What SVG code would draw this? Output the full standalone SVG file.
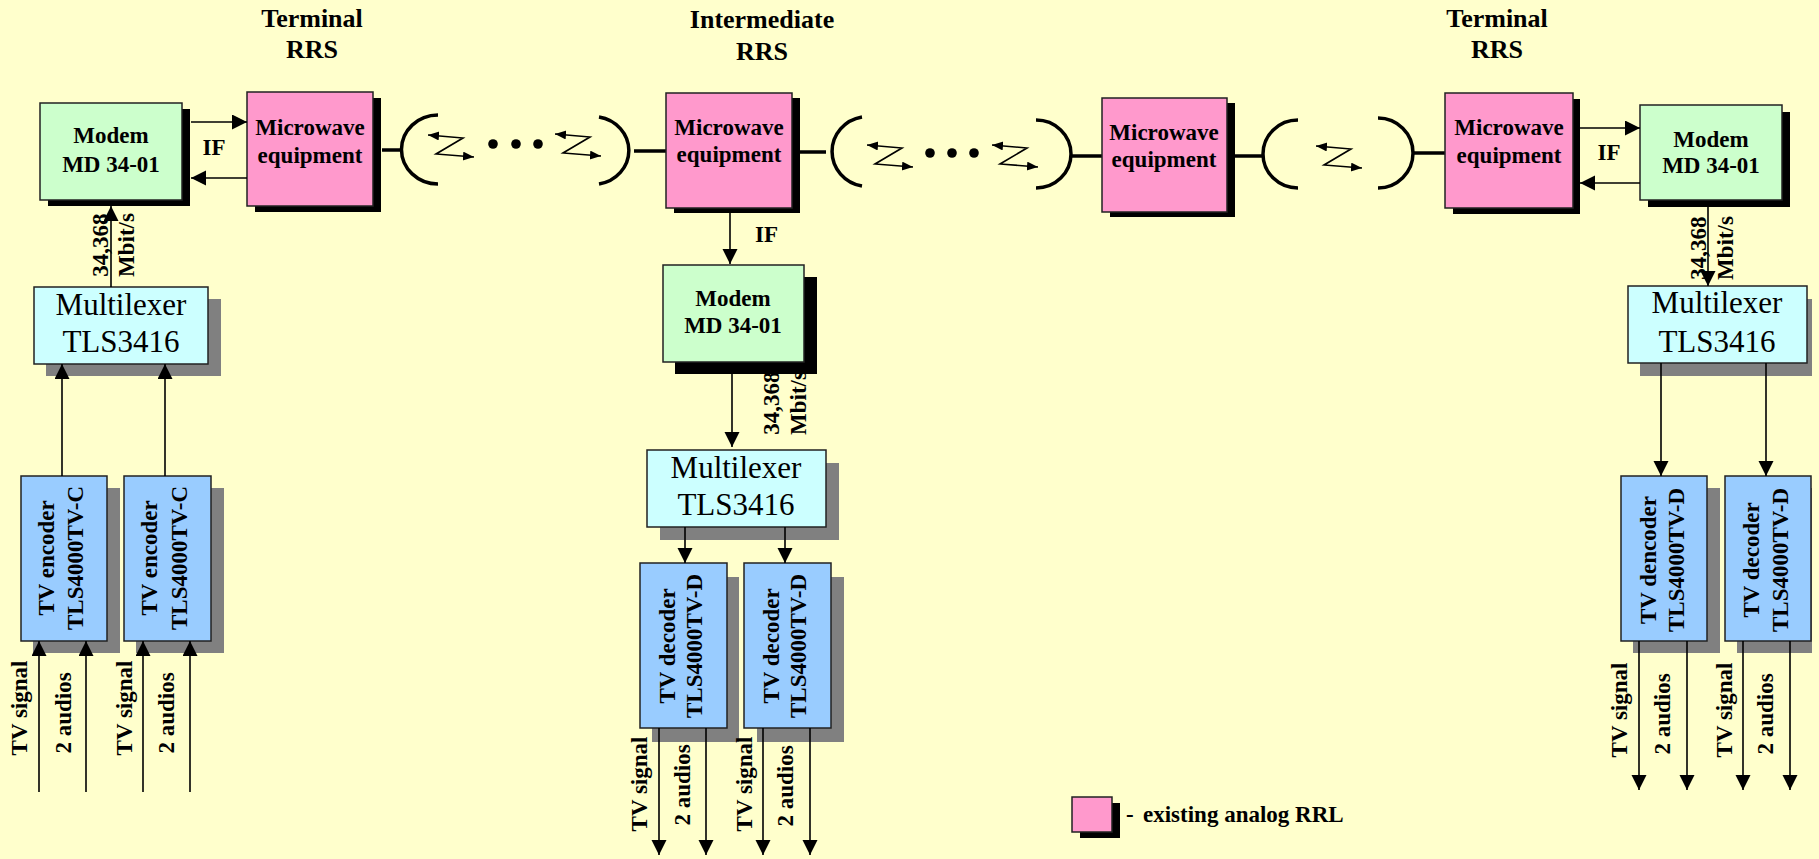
<svg xmlns="http://www.w3.org/2000/svg" width="1819" height="859" viewBox="0 0 1819 859">
<defs>
<style>
.bg{fill:#FFFFCC}
.mw{fill:#FF99CC;stroke:#222;stroke-width:1.5}
.md{fill:#CCFFCC;stroke:#222;stroke-width:1.5}
.mx{fill:#CCFFFF;stroke:#222;stroke-width:1.5}
.cd{fill:#99CCFF;stroke:#222;stroke-width:1.5}
.sb{fill:#000}
.sg{fill:#808080}
.t{font-family:"Liberation Serif","Times New Roman",serif;font-weight:bold;font-size:23px;fill:#000;text-anchor:middle}
.h{font-family:"Liberation Serif","Times New Roman",serif;font-weight:bold;font-size:26px;fill:#000;text-anchor:middle}
.r{font-family:"Liberation Serif","Times New Roman",serif;font-size:31px;fill:#000;text-anchor:middle}
.ln{stroke:#000;stroke-width:1.6;fill:none}
.thick{stroke:#000;stroke-width:3.5;fill:none}
.z{stroke:#000;stroke-width:1.6;fill:none}
</style>
<marker id="ah" markerUnits="userSpaceOnUse" markerWidth="16" markerHeight="16" refX="15" refY="7.5" orient="auto-start-reverse" viewBox="0 0 16 16">
<path d="M0,0 L15,7.5 L0,15 z" fill="#000"/>
</marker>
<marker id="zh" markerUnits="userSpaceOnUse" markerWidth="12" markerHeight="12" refX="11" refY="4.5" orient="auto-start-reverse" viewBox="0 0 12 12">
<path d="M0,0 L11,4.5 L0,9 z" fill="#000"/>
</marker>
<polyline id="zz" class="z" points="0,0 35,3 8,19 46,22" marker-start="url(#zh)" marker-end="url(#zh)"/>
</defs>
<rect class="bg" x="0" y="0" width="1819" height="859"/>

<g id="titles">
<text class="h" x="312" y="27">Terminal</text>
<text class="h" x="312" y="58">RRS</text>
<text class="h" x="762" y="28">Intermediate</text>
<text class="h" x="762" y="60">RRS</text>
<text class="h" x="1497" y="27">Terminal</text>
<text class="h" x="1497" y="58">RRS</text>
</g>

<g id="rate-label-mid">
<text class="t" transform="translate(779,403) rotate(-90)">34,368</text>
<text class="t" transform="translate(806,403) rotate(-90)">Mbit/s</text>
</g>

<g id="radio-links">
<line class="thick" x1="382" y1="150" x2="403" y2="150"/>
<path class="thick" d="M438,115 A36,34 0 0 0 438,184"/>
<use href="#zz" x="428" y="135"/>
<circle cx="493" cy="144" r="4.8"/>
<circle cx="516" cy="144" r="4.8"/>
<circle cx="538" cy="144" r="4.8"/>
<use href="#zz" x="555" y="134"/>
<path class="thick" d="M599,117 A36,34 0 0 1 599,184"/>
<line class="thick" x1="634" y1="151" x2="666" y2="151"/>

<line class="thick" x1="800" y1="152" x2="826" y2="152"/>
<path class="thick" d="M862,117 A36,35 0 0 0 862,186"/>
<use href="#zz" x="867" y="145"/>
<circle cx="930" cy="153" r="4.8"/>
<circle cx="952" cy="153" r="4.8"/>
<circle cx="974" cy="153" r="4.8"/>
<use href="#zz" x="992" y="145"/>
<path class="thick" d="M1036,120 A35,34 0 0 1 1036,188"/>
<line class="thick" x1="1070" y1="156" x2="1102" y2="156"/>

<line class="thick" x1="1235" y1="156" x2="1264" y2="156"/>
<path class="thick" d="M1298,120 A35,34 0 0 0 1298,188"/>
<use href="#zz" x="1316" y="146"/>
<path class="thick" d="M1378,118 A35,35 0 0 1 1378,188"/>
<line class="thick" x1="1413" y1="153" x2="1445" y2="153"/>
</g>

<g id="modem-left">
<rect class="sb" x="48" y="109" width="142" height="97"/>
<rect class="md" x="40" y="103" width="142" height="97"/>
<text class="t" x="111" y="143">Modem</text>
<text class="t" x="111" y="172">MD 34-01</text>
</g>
<g id="microwave-1">
<rect class="sb" x="255" y="98" width="126" height="114"/>
<rect class="mw" x="247" y="92" width="126" height="114"/>
<text class="t" x="310" y="135">Microwave</text>
<text class="t" x="310" y="163">equipment</text>
</g>
<g id="mux-left">
<rect class="sg" x="46" y="299" width="175" height="77"/>
<rect class="mx" x="34" y="287" width="174" height="77"/>
<text class="r" x="121" y="315">Multilexer</text>
<text class="r" x="121" y="352">TLS3416</text>
</g>
<g id="encoder-1">
<rect class="sg" x="33" y="488" width="87" height="165"/>
<rect class="cd" x="21" y="476" width="86" height="165"/>
<text class="t" transform="translate(54,558) rotate(-90)">TV encoder</text>
<text class="t" transform="translate(83,558) rotate(-90)">TLS4000TV-C</text>
</g>
<g id="encoder-2">
<rect class="sg" x="136" y="488" width="88" height="165"/>
<rect class="cd" x="124" y="476" width="87" height="165"/>
<text class="t" transform="translate(157,558) rotate(-90)">TV encoder</text>
<text class="t" transform="translate(187,558) rotate(-90)">TLS4000TV-C</text>
</g>

<g id="microwave-2">
<rect class="sb" x="674" y="98" width="126" height="115"/>
<rect class="mw" x="666" y="93" width="126" height="115"/>
<text class="t" x="729" y="135">Microwave</text>
<text class="t" x="729" y="162">equipment</text>
</g>
<g id="modem-mid">
<rect class="sb" x="675" y="277" width="142" height="97"/>
<rect class="md" x="663" y="265" width="141" height="97"/>
<text class="t" x="733" y="306">Modem</text>
<text class="t" x="733" y="333">MD 34-01</text>
</g>
<g id="mux-mid">
<rect class="sg" x="660" y="463" width="179" height="77"/>
<rect class="mx" x="647" y="450" width="179" height="77"/>
<text class="r" x="736" y="478">Multilexer</text>
<text class="r" x="736" y="515">TLS3416</text>
</g>
<g id="decoder-mid-1">
<rect class="sg" x="652" y="577" width="87" height="165"/>
<rect class="cd" x="640" y="563" width="87" height="165"/>
<text class="t" transform="translate(675,646) rotate(-90)">TV decoder</text>
<text class="t" transform="translate(702,646) rotate(-90)">TLS4000TV-D</text>
</g>
<g id="decoder-mid-2">
<rect class="sg" x="757" y="577" width="87" height="165"/>
<rect class="cd" x="744" y="563" width="87" height="165"/>
<text class="t" transform="translate(779,646) rotate(-90)">TV decoder</text>
<text class="t" transform="translate(806,646) rotate(-90)">TLS4000TV-D</text>
</g>

<g id="microwave-3">
<rect class="sb" x="1110" y="103" width="125" height="114"/>
<rect class="mw" x="1102" y="98" width="125" height="114"/>
<text class="t" x="1164" y="140">Microwave</text>
<text class="t" x="1164" y="167">equipment</text>
</g>
<g id="microwave-4">
<rect class="sb" x="1453" y="99" width="127" height="115"/>
<rect class="mw" x="1445" y="93" width="128" height="115"/>
<text class="t" x="1509" y="135">Microwave</text>
<text class="t" x="1509" y="163">equipment</text>
</g>
<g id="modem-right">
<rect class="sb" x="1648" y="112" width="142" height="95"/>
<rect class="md" x="1640" y="105" width="142" height="95"/>
<text class="t" x="1711" y="147">Modem</text>
<text class="t" x="1711" y="173">MD 34-01</text>
</g>
<g id="mux-right">
<rect class="sg" x="1640" y="299" width="172" height="77"/>
<rect class="mx" x="1628" y="286" width="179" height="77"/>
<text class="r" x="1717" y="313">Multilexer</text>
<text class="r" x="1717" y="352">TLS3416</text>
</g>
<g id="decoder-right-1">
<rect class="sg" x="1633" y="488" width="87" height="165"/>
<rect class="cd" x="1621" y="476" width="86" height="165"/>
<text class="t" transform="translate(1656,560) rotate(-90)">TV dencoder</text>
<text class="t" transform="translate(1684,560) rotate(-90)">TLS4000TV-D</text>
</g>
<g id="decoder-right-2">
<rect class="sg" x="1737" y="488" width="75" height="165"/>
<rect class="cd" x="1725" y="476" width="86" height="165"/>
<text class="t" transform="translate(1759,560) rotate(-90)">TV decoder</text>
<text class="t" transform="translate(1788,560) rotate(-90)">TLS4000TV-D</text>
</g>

<g id="legend">
<rect class="sb" x="1080" y="803" width="40" height="35"/>
<rect class="mw" x="1072" y="797" width="40" height="35"/>
<text class="t" x="1126" y="822" style="text-anchor:start">-</text>
<text class="t" x="1143" y="822" style="text-anchor:start">existing analog RRL</text>
</g>

<g id="connectors">
<line class="ln" x1="191" y1="122" x2="247" y2="122" marker-end="url(#ah)"/>
<line class="ln" x1="247" y1="178" x2="191" y2="178" marker-end="url(#ah)"/>
<text class="t" x="214" y="155">IF</text>
<line class="ln" x1="111" y1="287" x2="111" y2="206" marker-end="url(#ah)"/>
<text class="t" transform="translate(108,245) rotate(-90)">34,368</text>
<text class="t" transform="translate(134,245) rotate(-90)">Mbit/s</text>
<line class="ln" x1="62" y1="476" x2="62" y2="364" marker-end="url(#ah)"/>
<line class="ln" x1="165" y1="476" x2="165" y2="364" marker-end="url(#ah)"/>
<line class="ln" x1="39" y1="792" x2="39" y2="641" marker-end="url(#ah)"/>
<line class="ln" x1="86" y1="792" x2="86" y2="641" marker-end="url(#ah)"/>
<line class="ln" x1="143" y1="792" x2="143" y2="641" marker-end="url(#ah)"/>
<line class="ln" x1="190" y1="792" x2="190" y2="641" marker-end="url(#ah)"/>
<text class="t" transform="translate(27,708) rotate(-90)">TV signal</text>
<text class="t" transform="translate(71,713) rotate(-90)">2 audios</text>
<text class="t" transform="translate(132,708) rotate(-90)">TV signal</text>
<text class="t" transform="translate(174,713) rotate(-90)">2 audios</text>

<line class="ln" x1="730" y1="213" x2="730" y2="264" marker-end="url(#ah)"/>
<text class="t" x="755" y="242" style="text-anchor:start">IF</text>
<line class="ln" x1="732" y1="374" x2="732" y2="447" marker-end="url(#ah)"/>
<line class="ln" x1="685" y1="527" x2="685" y2="563" marker-end="url(#ah)"/>
<line class="ln" x1="785" y1="527" x2="785" y2="563" marker-end="url(#ah)"/>
<line class="ln" x1="659" y1="728" x2="659" y2="855" marker-end="url(#ah)"/>
<line class="ln" x1="706" y1="728" x2="706" y2="855" marker-end="url(#ah)"/>
<line class="ln" x1="763" y1="728" x2="763" y2="855" marker-end="url(#ah)"/>
<line class="ln" x1="810" y1="728" x2="810" y2="855" marker-end="url(#ah)"/>
<text class="t" transform="translate(647,784) rotate(-90)">TV signal</text>
<text class="t" transform="translate(690,785) rotate(-90)">2 audios</text>
<text class="t" transform="translate(752,784) rotate(-90)">TV signal</text>
<text class="t" transform="translate(793,786) rotate(-90)">2 audios</text>

<line class="ln" x1="1580" y1="128" x2="1640" y2="128" marker-end="url(#ah)"/>
<line class="ln" x1="1640" y1="183" x2="1580" y2="183" marker-end="url(#ah)"/>
<text class="t" x="1609" y="160">IF</text>
<line class="ln" x1="1708" y1="207" x2="1708" y2="286" marker-end="url(#ah)"/>
<text class="t" transform="translate(1706,248) rotate(-90)">34,368</text>
<text class="t" transform="translate(1733,248) rotate(-90)">Mbit/s</text>
<line class="ln" x1="1661" y1="363" x2="1661" y2="476" marker-end="url(#ah)"/>
<line class="ln" x1="1766" y1="363" x2="1766" y2="476" marker-end="url(#ah)"/>
<line class="ln" x1="1639" y1="641" x2="1639" y2="790" marker-end="url(#ah)"/>
<line class="ln" x1="1687" y1="641" x2="1687" y2="790" marker-end="url(#ah)"/>
<line class="ln" x1="1743" y1="641" x2="1743" y2="790" marker-end="url(#ah)"/>
<line class="ln" x1="1790" y1="641" x2="1790" y2="790" marker-end="url(#ah)"/>
<text class="t" transform="translate(1627,710) rotate(-90)">TV signal</text>
<text class="t" transform="translate(1670,714) rotate(-90)">2 audios</text>
<text class="t" transform="translate(1732,710) rotate(-90)">TV signal</text>
<text class="t" transform="translate(1773,714) rotate(-90)">2 audios</text>
</g>
</svg>
